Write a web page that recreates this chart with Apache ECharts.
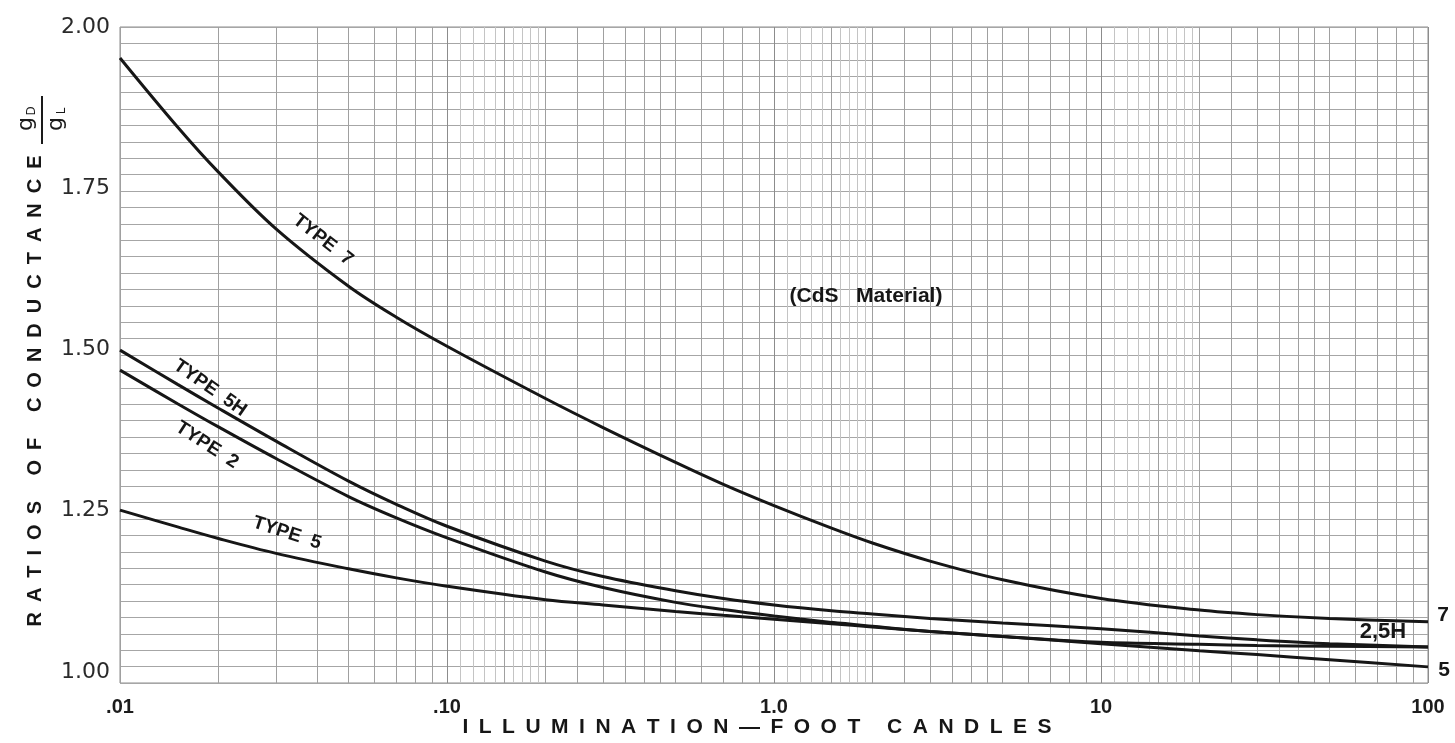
<!DOCTYPE html>
<html>
<head>
<meta charset="utf-8">
<title>Ratios of Conductance (CdS Material)</title>
<script src="https://cdn.jsdelivr.net/npm/echarts@6/dist/echarts.min.js"></script>
<style>
  html, body { margin: 0; padding: 0; background: #fff; }
  #chart { width: 1455px; height: 743px; }
</style>
</head>
<body>
<div id="chart"></div>
<script>
// illumination in foot candles (log axis)
const illum = [0.01, 0.015, 0.02, 0.03, 0.05, 0.07, 0.1, 0.2, 0.3, 0.5, 0.7, 1, 1.5, 2, 3, 5, 10, 20, 30, 50, 100];

// ratios of conductance gD/gL
const type7  = [1.952, 1.845, 1.775, 1.687, 1.598, 1.550, 1.505, 1.424, 1.379, 1.325, 1.291, 1.258, 1.223, 1.200, 1.172, 1.143, 1.114, 1.096, 1.089, 1.083, 1.078];
const type5H = [1.499, 1.446, 1.409, 1.358, 1.296, 1.260, 1.226, 1.172, 1.148, 1.126, 1.114, 1.104, 1.095, 1.090, 1.083, 1.076, 1.067, 1.056, 1.050, 1.044, 1.039];
const type2  = [1.468, 1.416, 1.380, 1.331, 1.272, 1.239, 1.208, 1.155, 1.131, 1.108, 1.097, 1.087, 1.077, 1.071, 1.063, 1.055, 1.046, 1.043, 1.041, 1.040, 1.039];
const type5  = [1.251, 1.225, 1.207, 1.184, 1.160, 1.146, 1.133, 1.112, 1.104, 1.094, 1.088, 1.082, 1.075, 1.070, 1.063, 1.055, 1.044, 1.033, 1.027, 1.019, 1.008];

const yTicks = [1.00, 1.25, 1.50, 1.75, 2.00];
const xTickText = { '0.01': '.01', '0.1': '.10', '1': '1.0', '10': '10', '100': '100' };

// log paper rulings inside each decade
const decades = [0.01, 0.1, 1, 10];
const midSteps = [1.5, 2, 2.5, 3, 3.5, 4, 4.5, 5, 6, 7, 8, 9];
const fineSteps = [1.1, 1.2, 1.3, 1.4, 1.6, 1.7, 1.8, 1.9];

const rulings = (steps) => {
  const out = [];
  decades.forEach(d => steps.forEach(s => out.push({ xAxis: +(d * s).toPrecision(6) })));
  return out;
};

const pairs = (ys) => illum.map((x, i) => [x, ys[i]]);

const FONT = '"Liberation Sans Narrow", "Liberation Sans", Arial, sans-serif';
const spread = (s, gap) => s.split('').join(gap);

const chart = echarts.init(document.getElementById('chart'));

const curve = (name, ys) => ({
  name,
  type: 'line',
  data: pairs(ys),
  smooth: 0.35,
  symbol: 'none',
  silent: true,
  z: 5,
  lineStyle: { color: '#161616', width: 3 }
});

const rulingSeries = (steps, color) => ({
  type: 'line',
  data: [],
  silent: true,
  z: 1,
  markLine: {
    silent: true,
    symbol: ['none', 'none'],
    animation: false,
    label: { show: false },
    emphasis: { disabled: true },
    lineStyle: { type: 'solid', color, width: 1 },
    data: rulings(steps)
  }
});

const deg = (a) => a * Math.PI / 180;
const label = (text, x, y, angle, size) => ({
  type: 'text', x, y, rotation: deg(angle || 0), z: 10,
  style: { text, font: 'bold ' + (size || 19) + 'px ' + FONT, fill: '#161616', align: 'center', verticalAlign: 'middle' }
});

const option = {
  backgroundColor: '#fff',
  animation: false,
  grid: {
    left: 120, right: 27, top: 27, bottom: 60,
    show: true, borderColor: '#8c8c8c', borderWidth: 1
  },
  xAxis: {
    type: 'log',
    logBase: 10,
    min: 0.01,
    max: 100,
    axisLine: { show: false },
    axisTick: { show: false },
    splitLine: { show: true, lineStyle: { color: '#8c8c8c', width: 1 } },
    axisLabel: {
      margin: 14,
      color: '#1c1c1c',
      fontFamily: FONT,
      fontWeight: 'bold',
      fontSize: 20,
      formatter: (v) => xTickText[String(+v.toPrecision(6))] || ''
    }
  },
  yAxis: [
    {
      type: 'value',
      min: 0.983,
      max: 2.0,
      axisLine: { show: false },
      axisTick: { show: false },
      splitLine: { show: false },
      axisLabel: {
        customValues: yTicks,
        margin: 10,
        color: '#2a2a2a',
        fontFamily: '"DejaVu Sans", sans-serif',
        fontSize: 22,
        formatter: (v) => v.toFixed(2)
      }
    },
    {
      // the paper's horizontal rulings
      type: 'value',
      min: 0,
      max: 40,
      interval: 1,
      position: 'left',
      axisLine: { show: false },
      axisTick: { show: false },
      axisLabel: { show: false },
      splitLine: { show: true, lineStyle: { color: '#a6a6a6', width: 1 } }
    }
  ],
  series: [
    rulingSeries(fineSteps, '#c4c4c4'),
    rulingSeries(midSteps, '#a0a0a0'),
    curve('TYPE 7', type7),
    curve('TYPE 5H', type5H),
    curve('TYPE 2', type2),
    curve('TYPE 5', type5)
  ],
  graphic: [
    // curve labels
    label('TYPE  7', 323, 240, -38),
    label('TYPE  5H', 210, 388, -35),
    label('TYPE  2', 207, 445, -33),
    label('TYPE  5', 287, 533, -18),
    label('(CdS   Material)', 866, 296, 0, 21),
    // end labels
    label('7', 1443, 615, 0, 21),
    label('5', 1444, 670, 0, 21),
    label('2,5H', 1383, 632, 0, 22),
    // axis titles
    label(spread('ILLUMINATION\u2014FOOT CANDLES', '\u2002'), 757, 727, 0, 21),
    label(spread('RATIOS OF CONDUCTANCE', '\u2002'), 35, 391, 90, 20),
    // gD / gL fraction, rotated with the title
    {
      type: 'group', x: 42, y: 120, rotation: Math.PI / 2, z: 10,
      children: [
        { type: 'text', x: -4, y: -16, style: { text: 'g', font: '22px "DejaVu Sans", sans-serif', fill: '#1a1a1a', align: 'center', verticalAlign: 'middle' } },
        { type: 'text', x: 9, y: -10, style: { text: 'D', font: '12px "DejaVu Sans", sans-serif', fill: '#1a1a1a', align: 'center', verticalAlign: 'middle' } },
        { type: 'line', shape: { x1: -24, y1: 0, x2: 24, y2: 0 }, style: { stroke: '#1a1a1a', lineWidth: 2 } },
        { type: 'text', x: -4, y: 14, style: { text: 'g', font: '22px "DejaVu Sans", sans-serif', fill: '#1a1a1a', align: 'center', verticalAlign: 'middle' } },
        { type: 'text', x: 9, y: 20, style: { text: 'L', font: '12px "DejaVu Sans", sans-serif', fill: '#1a1a1a', align: 'center', verticalAlign: 'middle' } }
      ]
    }
  ]
};

chart.setOption(option);
window.addEventListener('resize', () => chart.resize());
</script>
</body>
</html>
